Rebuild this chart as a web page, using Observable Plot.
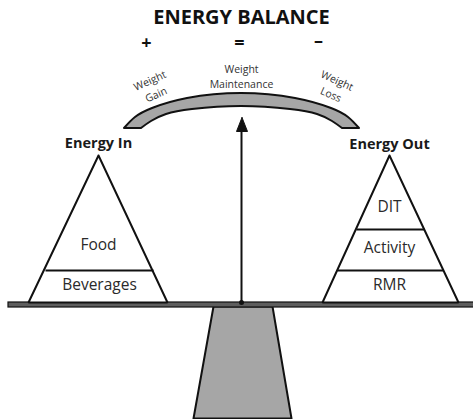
<!DOCTYPE html>
<html>
<head>
<meta charset="utf-8">
<script src="https://cdn.jsdelivr.net/npm/d3@7"></script>
<script src="https://cdn.jsdelivr.net/npm/@observablehq/plot@0.6"></script>
<style>
  html, body { margin: 0; padding: 0; background: #fff; }
  #chart svg { display: block; }
</style>
</head>
<body>
<div id="chart"></div>
<script>
// ---- Diagram content ----
const title = "ENERGY BALANCE";
const signs = [
  {label: "+", x: 146, y: 43},
  {label: "=", x: 239, y: 43},
  {label: "–", x: 318, y: 41}
];
const beamLabels = [
  {label: "Weight\nGain", x: 152, y: 86, rotate: -24},
  {label: "Weight\nMaintenance", x: 241, y: 75, rotate: 0},
  {label: "Weight\nLoss", x: 334, y: 86, rotate: 24}
];
const sideTitles = [
  {label: "Energy In", x: 98, y: 143},
  {label: "Energy Out", x: 389, y: 144}
];
const inLayers = [
  {label: "Food", x: 98, y: 245},
  {label: "Beverages", x: 99, y: 285}
];
const outLayers = [
  {label: "DIT", x: 389, y: 207},
  {label: "Activity", x: 389, y: 248},
  {label: "RMR", x: 389, y: 285}
];

// ---- Diagram geometry ----
const leftTriangle = [
  {x: 98, y: 155}, {x: 167, y: 302}, {x: 28, y: 302}, {x: 98, y: 155}
];
const rightTriangle = [
  {x: 389, y: 155}, {x: 458, y: 302}, {x: 322, y: 302}, {x: 389, y: 155}
];
const dividers = [
  {x1: 45, x2: 153, y: 270},
  {x1: 356, x2: 424, y: 229},
  {x1: 337, x2: 443, y: 270}
];
const beam = [
  {xo: 124, yo: 128, xi: 141, yi: 128},
  {xo: 135, yo: 117, xi: 151, yi: 121},
  {xo: 152, yo: 108, xi: 166, yi: 114},
  {xo: 187, yo: 98,  xi: 192, yi: 109},
  {xo: 241, yo: 93,  xi: 241, yi: 106},
  {xo: 295, yo: 98,  xi: 290, yi: 109},
  {xo: 331, yo: 108, xi: 317, yi: 114},
  {xo: 348, yo: 117, xi: 332, yi: 121},
  {xo: 359, yo: 128, xi: 342, yi: 128}
];
const fulcrum = [
  {x: 213, y: 306}, {x: 272, y: 306}, {x: 291, y: 418}, {x: 193, y: 418}, {x: 213, y: 306}
];
const plank = [{x1: 8, x2: 480, y1: 302, y2: 307}];
const shaft = [{x: 241, y1: 303, y2: 128}];
const arrowHead = [
  {x: 241.5, y: 117}, {x: 247, y: 131}, {x: 236, y: 131}, {x: 241.5, y: 117}
];
const pivot = [{x: 241, y: 302}];

const font = "'Open Sans', Lato, sans-serif";

const chart = Plot.plot({
  width: 473,
  height: 419,
  margin: 0,
  x: {domain: [0, 473], range: [0, 473], axis: null},
  y: {domain: [0, 419], range: [0, 419], axis: null},
  style: {fontFamily: font, background: "#fff"},
  marks: [
    // fulcrum
    Plot.line(fulcrum, {x: "x", y: "y", fill: "#a6a6a6", stroke: "#111", strokeWidth: 2}),
    // plank
    Plot.rect(plank, {x1: "x1", x2: "x2", y1: "y1", y2: "y2", fill: "#5e5e5e", stroke: "#111", strokeWidth: 1.2}),
    // triangles
    Plot.line(leftTriangle, {x: "x", y: "y", fill: "white", stroke: "#111", strokeWidth: 2, strokeLinejoin: "miter"}),
    Plot.line(rightTriangle, {x: "x", y: "y", fill: "white", stroke: "#111", strokeWidth: 2, strokeLinejoin: "miter"}),
    Plot.link(dividers, {x1: "x1", x2: "x2", y1: "y", y2: "y", stroke: "#111", strokeWidth: 2}),
    // beam
    Plot.area(beam, {x1: "xi", y1: "yi", x2: "xo", y2: "yo", curve: "natural", fill: "#a6a6a6", stroke: "#111", strokeWidth: 2}),
    // arrow
    Plot.link(shaft, {x1: "x", x2: "x", y1: "y1", y2: "y2", stroke: "#111", strokeWidth: 2}),
    Plot.line(arrowHead, {x: "x", y: "y", fill: "#111", stroke: "#111", strokeWidth: 1}),
    Plot.dot(pivot, {x: "x", y: "y", r: 2.5, fill: "#111"}),
    // texts
    Plot.text([title], {x: 241, y: 17, text: d => d, fontSize: 20, fontWeight: "bold", fill: "#111"}),
    Plot.text(signs, {x: "x", y: "y", text: "label", fontSize: 18, fontWeight: "bold", fill: "#111"}),
    Plot.text(beamLabels, {x: "x", y: "y", text: "label", rotate: "rotate", fontSize: 10.5, lineHeight: 1.45, fill: "#333"}),
    Plot.text(sideTitles, {x: "x", y: "y", text: "label", fontSize: 14.5, fontWeight: "bold", fill: "#1a1a1a"}),
    Plot.text(inLayers, {x: "x", y: "y", text: "label", fontSize: 15.5, fill: "#2a2a2a"}),
    Plot.text(outLayers, {x: "x", y: "y", text: "label", fontSize: 15.5, fill: "#2a2a2a"})
  ]
});
document.getElementById("chart").appendChild(chart);
</script>
</body>
</html>
